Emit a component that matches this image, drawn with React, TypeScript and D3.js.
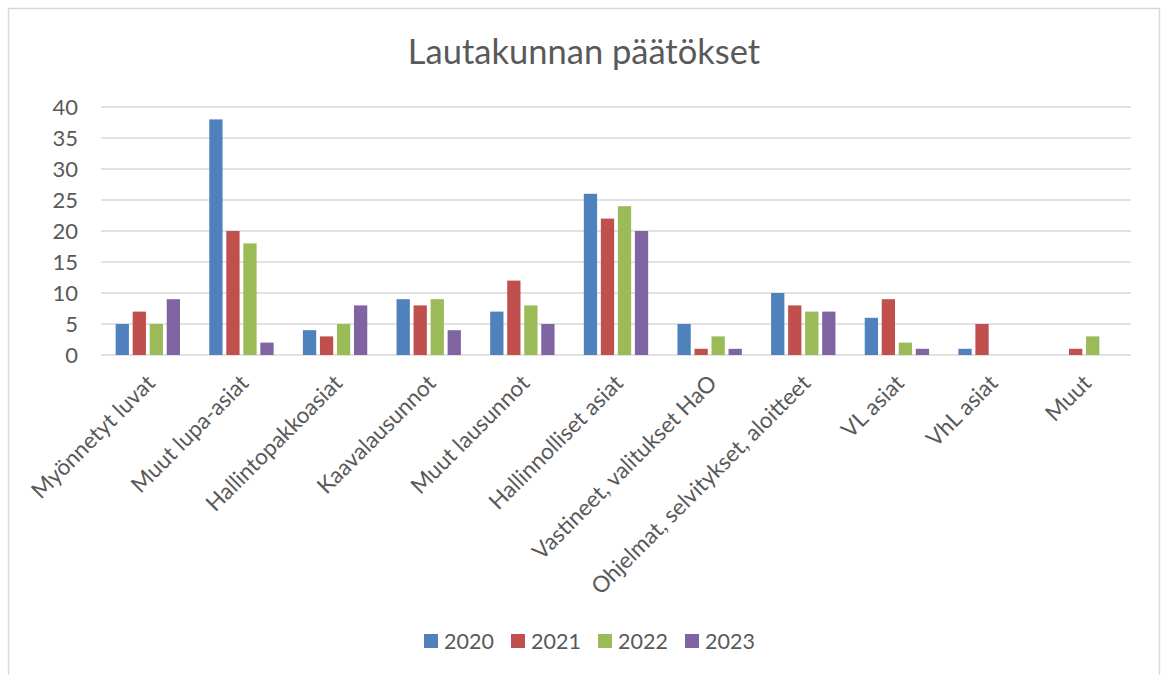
import React, { useEffect, useRef } from 'react';
import * as d3 from 'd3';

// chart data
const categories = [
  'Myönnetyt luvat',
  'Muut lupa-asiat',
  'Hallintopakkoasiat',
  'Kaavalausunnot',
  'Muut lausunnot',
  'Hallinnolliset asiat',
  'Vastineet, valitukset HaO',
  'Ohjelmat, selvitykset, aloitteet',
  'VL asiat',
  'VhL asiat',
  'Muut',
];
const years = ['2020', '2021', '2022', '2023'];
const values2020 = [5, 38, 4, 9, 7, 26, 5, 10, 6, 1, 0];
const values2021 = [7, 20, 3, 8, 12, 22, 1, 8, 9, 5, 1];
const values2022 = [5, 18, 5, 9, 8, 24, 3, 7, 2, 0, 3];
const values2023 = [9, 2, 8, 4, 5, 20, 1, 7, 1, 0, 0];
const yTicks = [0, 5, 10, 15, 20, 25, 30, 35, 40];
const colors = ['#4F81BD', '#C0504D', '#9BBB59', '#8064A2'];

const W = 1164;
const H = 675;
const FONT = 'Lato, "Open Sans", sans-serif';
const TEXT = '#595959';

export default function App() {
  const svgRef = useRef<SVGSVGElement>(null);

  useEffect(() => {
    if (!svgRef.current) return;
    const svg = d3.select(svgRef.current);
    svg.selectAll('*').remove();

    const series = [values2020, values2021, values2022, values2023];
    const margin = { top: 107, right: W - 1131, bottom: H - 355, left: 101 };

    // outer frame (bottom edge is outside the picture)
    svg.append('rect')
      .attr('x', 8.5).attr('y', 8.5)
      .attr('width', 1151).attr('height', 720)
      .attr('fill', '#fff')
      .attr('stroke', '#d9d9d9')
      .attr('stroke-width', 1.5);

    // title
    svg.append('text')
      .attr('x', 584).attr('y', 64)
      .attr('text-anchor', 'middle')
      .attr('fill', TEXT)
      .attr('font-family', FONT)
      .attr('font-size', 34.5)
      .text('Lautakunnan päätökset');

    const x0 = d3.scaleBand<string>()
      .domain(categories)
      .range([margin.left, W - margin.right]);

    const x1 = d3.scaleBand<string>()
      .domain(years)
      .range([0, x0.bandwidth()])
      .paddingInner(0.22)
      .paddingOuter(0.86);

    const y = d3.scaleLinear()
      .domain([0, 40])
      .range([H - margin.bottom, margin.top]);

    // gridlines
    svg.append('g')
      .selectAll('line')
      .data(yTicks)
      .join('line')
      .attr('x1', margin.left)
      .attr('x2', W - margin.right)
      .attr('y1', d => y(d))
      .attr('y2', d => y(d))
      .attr('stroke', '#d9d9d9')
      .attr('stroke-width', 1.5);

    // y tick labels
    svg.append('g')
      .selectAll('text')
      .data(yTicks)
      .join('text')
      .attr('x', 78)
      .attr('y', d => y(d))
      .attr('dy', '0.35em')
      .attr('text-anchor', 'end')
      .attr('fill', TEXT)
      .attr('font-family', FONT)
      .attr('font-size', 22)
      .text(d => d);

    // bars
    const groups = svg.append('g')
      .selectAll('g')
      .data(categories)
      .join('g')
      .attr('transform', d => `translate(${x0(d)},0)`);

    groups.selectAll('rect')
      .data((_, i) => years.map((yr, s) => ({ yr, s, v: series[s][i] })))
      .join('rect')
      .filter(d => d.v > 0)
      .attr('x', d => x1(d.yr)!)
      .attr('y', d => y(d.v))
      .attr('width', x1.bandwidth())
      .attr('height', d => y(0) - y(d.v))
      .attr('fill', d => colors[d.s]);

    // category labels, rotated
    svg.append('g')
      .selectAll('text')
      .data(categories)
      .join('text')
      .attr('transform', d => `translate(${x0(d)! + x0.bandwidth() / 2 + 3},${y(0) + 24}) rotate(-45)`)
      .attr('text-anchor', 'end')
      .attr('dy', '0.35em')
      .attr('fill', TEXT)
      .attr('font-family', FONT)
      .attr('font-size', 22.5)
      .text(d => d);

    // legend
    const legend = svg.append('g')
      .selectAll('g')
      .data(years)
      .join('g')
      .attr('transform', (_, i) => `translate(${424 + i * 87},641)`);

    legend.append('rect')
      .attr('x', 0).attr('y', -7)
      .attr('width', 14).attr('height', 14)
      .attr('fill', (_, i) => colors[i]);

    legend.append('text')
      .attr('x', 20)
      .attr('dy', '0.35em')
      .attr('fill', TEXT)
      .attr('font-family', FONT)
      .attr('font-size', 21.5)
      .text(d => d);
  }, []);

  return (
    <svg
      ref={svgRef}
      width={W}
      height={H}
      style={{ position: 'absolute', left: 0, top: 0, display: 'block' }}
    />
  );
}
